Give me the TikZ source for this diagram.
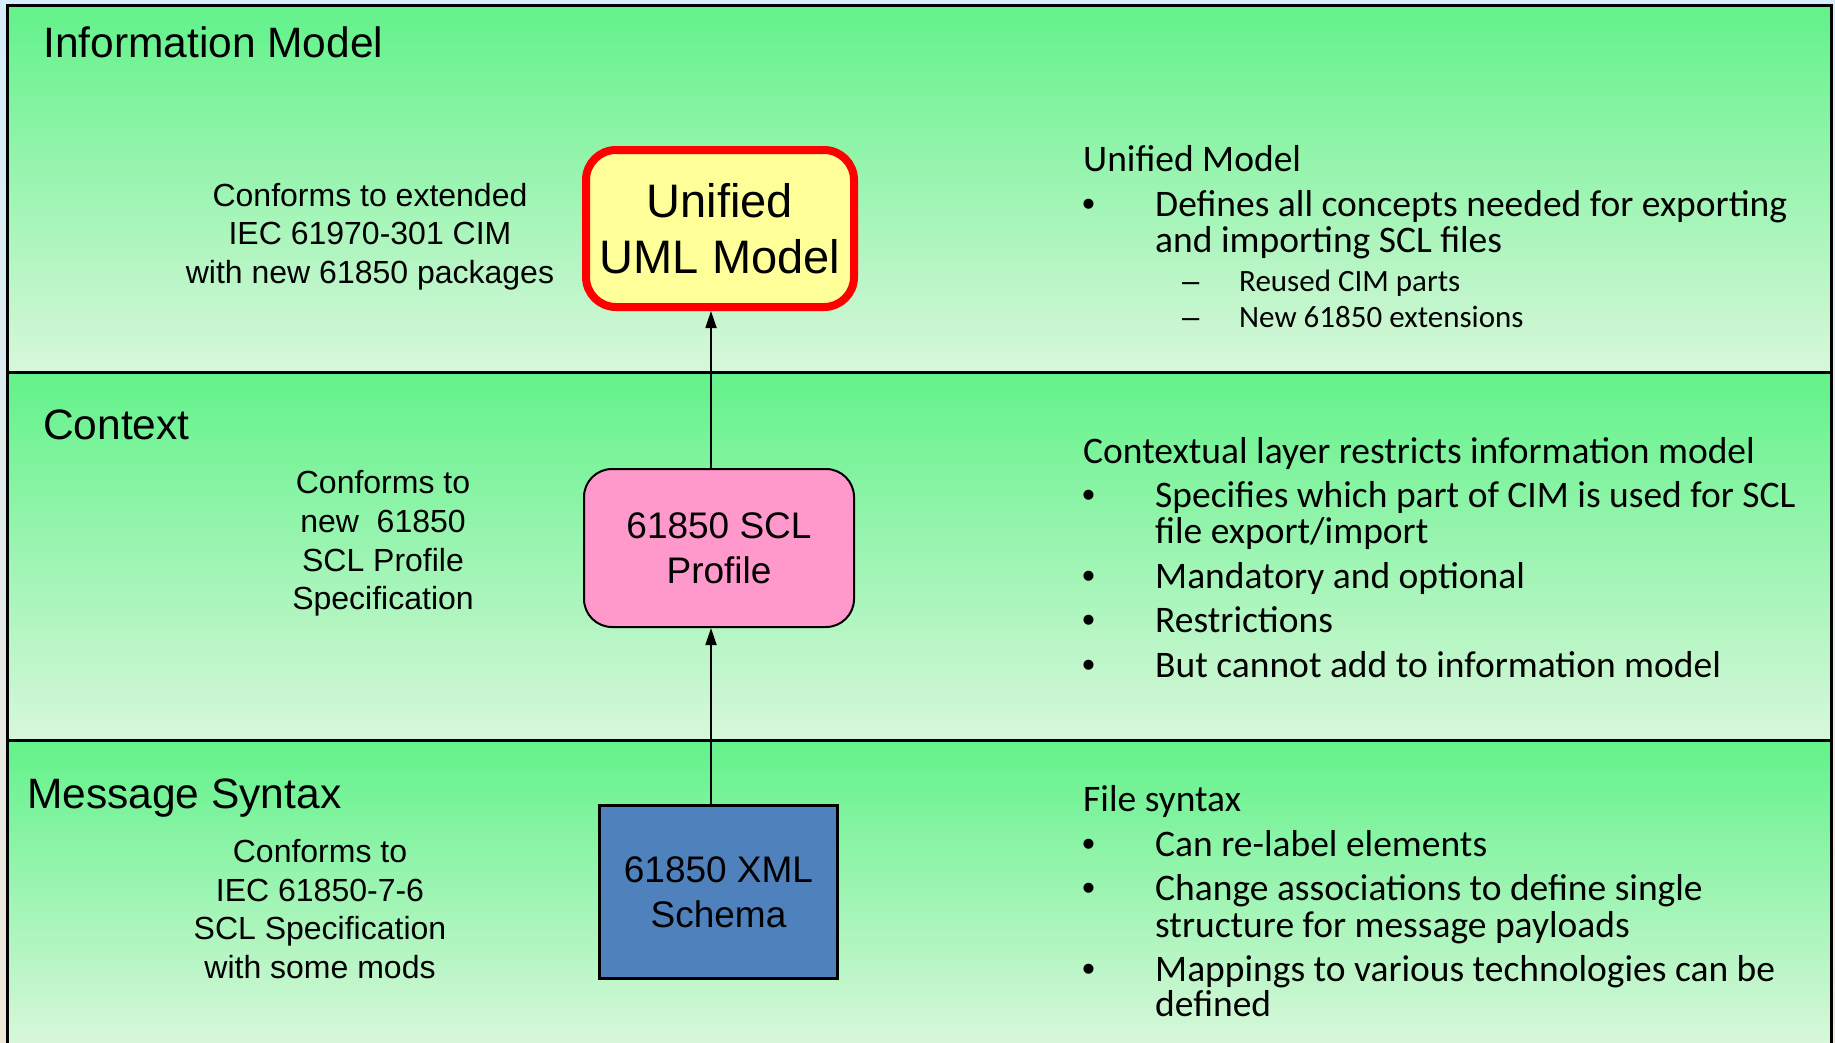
\documentclass[tikz,border=0pt]{standalone}
\usepackage{fontspec}
\setmainfont{Liberation Sans}
\newfontfamily\calfont{Carlito}
\usetikzlibrary{arrows.meta}
\definecolor{bandtop}{HTML}{62F28A}
\definecolor{bandbot}{HTML}{D8F7DB}
\definecolor{bgtop}{HTML}{D6EEFB}
\definecolor{bgmid}{HTML}{EAF5FA}
\definecolor{bgbot}{HTML}{EFE7D8}
\definecolor{umlfill}{HTML}{FFFF99}
\definecolor{proffill}{HTML}{FF99CC}
\definecolor{xmlfill}{HTML}{4F81BD}
\definecolor{umlred}{HTML}{FF0000}
\tikzset{
  band/.style={top color=bandtop, bottom color=bandbot, draw=none},
  frame/.style={line width=3pt, draw=black},
  title/.style={anchor=base west, inner sep=0pt, font=\fontsize{42.5}{50}\selectfont},
  desc/.style={align=center, inner sep=0pt, font=\fontsize{32}{38.6}\selectfont},
  rtxt/.style={anchor=base west, inner sep=0pt, font=\calfont\fontsize{37.5}{44}\selectfont},
  rsub/.style={anchor=base west, inner sep=0pt, font=\calfont\fontsize{31}{37}\selectfont},
  bul/.style={anchor=base west, inner sep=0pt, font=\fontsize{37}{44}\selectfont},
  dsh/.style={anchor=base west, inner sep=0pt, font=\fontsize{31}{37}\selectfont},
  conn/.style={line width=1.8pt, -{Triangle[length=17pt,width=11pt]}},
  umlbox/.style={draw=umlred, line width=8pt, fill=umlfill, rounded corners=30pt,
    minimum width=268pt, minimum height=157pt, align=center, inner sep=0pt,
    font=\fontsize{47}{56}\selectfont},
  profbox/.style={draw=black, line width=2pt, fill=proffill, rounded corners=28pt,
    minimum width=270pt, minimum height=158pt, align=center, inner sep=0pt,
    font=\fontsize{37}{45}\selectfont},
  xmlbox/.style={draw=black, line width=3pt, fill=xmlfill,
    minimum width=238pt, minimum height=173pt, align=center, inner sep=0pt,
    font=\fontsize{37}{45}\selectfont},
}
\begin{document}
\begin{tikzpicture}[x=1pt,y=-1pt]
\useasboundingbox (0,0) rectangle (1835,1042);
\shade[top color=bgtop, middle color=bgmid, bottom color=bgbot] (0,0) rectangle (1835,1042);
% bands
\fill[band] (7,5) rectangle (1831,372);
\fill[band] (7,372) rectangle (1831,740);
\fill[band] (7,740) rectangle (1831,1044);
\draw[frame] (7,1044) -- (7,5) -- (1831,5) -- (1831,1044);
\draw[frame] (7,372) -- (1831,372);
\draw[frame] (7,740) -- (1831,740);
% titles
\node[title] (t1) at (43,57) {Information Model};
\node[title] (t2) at (43,439) {Context};
\node[title] (t3) at (27,808) {Message Syntax};
% left descriptions
\node[desc] (l1) at (370,236.5) {Conforms to extended\\IEC 61970-301 CIM\\with new 61850 packages};
\node[desc] (l2) at (383,543.5) {Conforms to\\new~~61850\\SCL Profile\\Specification};
\node[desc] (l3) at (320,909) {Conforms to\\IEC 61850-7-6\\SCL Specification\\with some mods};
% boxes
\node[umlbox] (uml) at (720,228.5) {Unified\\UML Model};
\node[profbox] (prof) at (719,548) {\raisebox{-3pt}{\parbox{250pt}{\centering 61850 SCL\\Profile}}};
\node[xmlbox] (xml) at (718.5,892) {\raisebox{-3pt}{\parbox{220pt}{\centering 61850 XML\\Schema}}};
% connectors
\coordinate (ax) at (711,0);
\draw[conn] (xml.north -| ax) -- (prof.south -| ax);
\draw[conn] (prof.north -| ax) -- (uml.south -| ax);
% right side, band 1
\node[rtxt] (h1) at (1083,171) {Unified Model};
\node[bul] (b11) at (1082,216) {•};
\node[rtxt] (r11a) at (1155,216) {Defines all concepts needed for exporting};
\node[rtxt] (r11b) at (1155,252) {and importing SCL files};
\node[dsh] (d11) at (1182,291) {–};
\node[rsub] (s11) at (1239,291) {Reused CIM parts};
\node[dsh] (d12) at (1182,327) {–};
\node[rsub] (s12) at (1239,327) {New 61850 extensions};
% right side, band 2
\node[rtxt] (h2) at (1083,463) {Contextual layer restricts information model};
\node[bul] (b21) at (1082,507) {•};
\node[rtxt] (r21a) at (1155,507) {Specifies which part of CIM is used for SCL};
\node[rtxt] (r21b) at (1155,543) {file export/import};
\node[bul] (b22) at (1082,588) {•};
\node[rtxt] (r22) at (1155,588) {Mandatory and optional};
\node[bul] (b23) at (1082,632) {•};
\node[rtxt] (r23) at (1155,632) {Restrictions};
\node[bul] (b24) at (1082,677) {•};
\node[rtxt] (r24) at (1155,677) {But cannot add to information model};
% right side, band 3
\node[rtxt] (h3) at (1083,811) {File syntax};
\node[bul] (b31) at (1082,856) {•};
\node[rtxt] (r31) at (1155,856) {Can re-label elements};
\node[bul] (b32) at (1082,900) {•};
\node[rtxt] (r32a) at (1155,900) {Change associations to define single};
\node[rtxt] (r32b) at (1155,937) {structure for message payloads};
\node[bul] (b33) at (1082,981) {•};
\node[rtxt] (r33a) at (1155,981) {Mappings to various technologies can be};
\node[rtxt] (r33b) at (1155,1016) {defined};
\end{tikzpicture}
\end{document}
